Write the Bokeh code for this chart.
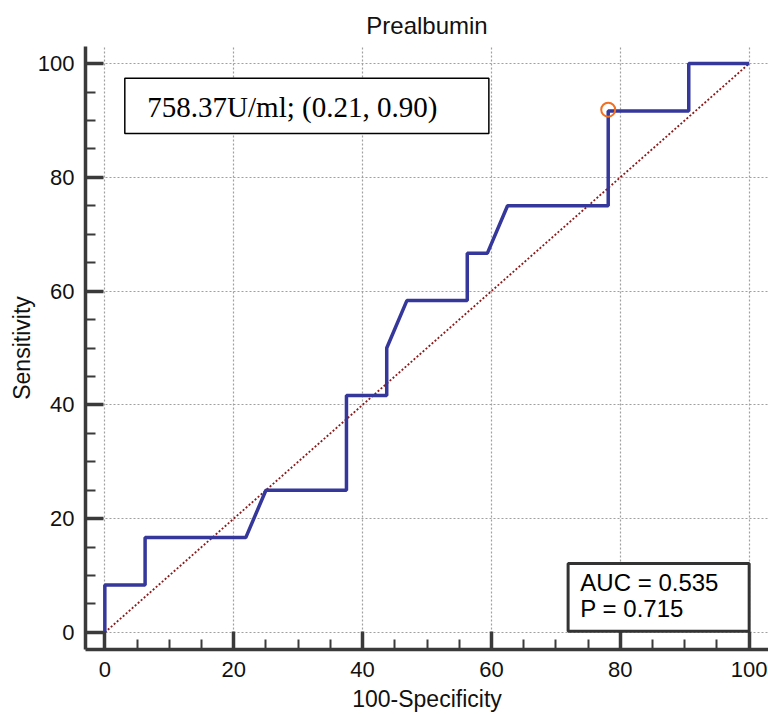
from bokeh.plotting import figure
from bokeh.models import SingleIntervalTicker, BoxAnnotation, Label, Range1d
from bokeh.embed import file_html
from bokeh.resources import INLINE

# ROC curve (100-Specificity, Sensitivity)
roc_x = [0, 0, 6.25, 6.25, 21.875, 25, 37.5, 37.5, 43.75, 43.75, 46.875, 56.25, 56.25,
         59.375, 62.5, 78.125, 78.125, 90.625, 90.625, 100]
roc_y = [0, 8.33, 8.33, 16.67, 16.67, 25, 25, 41.67, 41.67, 50, 58.33, 58.33, 66.67,
         66.67, 75, 75, 91.67, 91.67, 100, 100]
diag_x = [0, 100]
diag_y = [0, 100]
cut_x = [78.125]
cut_y = [91.9]
title_text = "Prealbumin"
x_label = "100-Specificity"
y_label = "Sensitivity"
cutoff_text = "758.37U/ml; (0.21, 0.90)"
auc_text = "AUC = 0.535"
p_text = "P = 0.715"

SANS = "Liberation Sans"
p = figure(width=768, height=714, output_backend="svg", toolbar_location=None,
           x_range=Range1d(-3, 103), y_range=Range1d(-3, 103),
           min_border_left=85, min_border_right=0, min_border_top=46, min_border_bottom=63,
           title=title_text)
p.outline_line_color = None
p.title.align = "center"
p.title.text_font = SANS
p.title.text_font_size = "24px"
p.title.text_font_style = "normal"
p.title.text_color = "#111111"
p.title.standoff = 16

for ax in (p.xaxis[0], p.yaxis[0]):
    ax.ticker = SingleIntervalTicker(interval=20, num_minor_ticks=4)
    ax.axis_line_width = 3.5
    ax.axis_line_color = "#3a3a3a"
    ax.major_tick_line_width = 3.5
    ax.major_tick_line_color = "#3a3a3a"
    ax.minor_tick_line_width = 2
    ax.minor_tick_line_color = "#3a3a3a"
    ax.major_tick_in = 18
    ax.major_tick_out = 0
    ax.minor_tick_in = 10
    ax.minor_tick_out = 0
    ax.major_label_text_font = SANS
    ax.major_label_text_font_size = "22px"
    ax.major_label_text_color = "#111111"
    ax.axis_label_text_font = SANS
    ax.axis_label_text_font_size = "23px"
    ax.axis_label_text_font_style = "normal"
    ax.axis_label_text_color = "#111111"

p.xaxis.axis_label = x_label
p.yaxis.axis_label = y_label
p.xaxis.major_label_standoff = 12
p.yaxis.major_label_standoff = 11
p.xaxis.axis_label_standoff = 6
p.yaxis.axis_label_standoff = 0

for g in (p.xgrid[0], p.ygrid[0]):
    g.ticker = SingleIntervalTicker(interval=20)
    g.grid_line_color = "#a0a0a0"
    g.grid_line_dash = "2 2"
    g.grid_line_width = 1.2

p.line(diag_x, diag_y, line_color="#8B1A1A", line_width=1.8, line_dash="2 2")
p.line(roc_x, roc_y, line_color="#35379A", line_width=3.5)
p.scatter(cut_x, cut_y, marker="circle", size=14, fill_color="white", fill_alpha=0,
          line_color="#F37021", line_width=2)

box1 = BoxAnnotation(left=3.1, right=59.6, bottom=87.7, top=97.4,
                     fill_color="white", fill_alpha=1, line_color="black", line_alpha=1,
                     line_width=1.5, level="overlay")
p.add_layout(box1)
p.add_layout(Label(x=6.6, y=92.3, text=cutoff_text, text_font="Liberation Serif",
                   text_font_size="29px", text_color="black", text_baseline="middle",
                   level="overlay"))

box2 = BoxAnnotation(left=71.9, right=100, bottom=0.2, top=12.1,
                     fill_color="white", fill_alpha=1, line_color="#333333", line_alpha=1,
                     line_width=3, level="overlay")
p.add_layout(box2)
p.add_layout(Label(x=73.8, y=8.8, text=auc_text, text_font=SANS,
                   text_font_size="24px", text_color="black", text_baseline="middle",
                   level="overlay"))
p.add_layout(Label(x=73.8, y=4.2, text=p_text, text_font=SANS,
                   text_font_size="24px", text_color="black", text_baseline="middle",
                   level="overlay"))

open("out.html", "w").write(file_html(p, INLINE))
